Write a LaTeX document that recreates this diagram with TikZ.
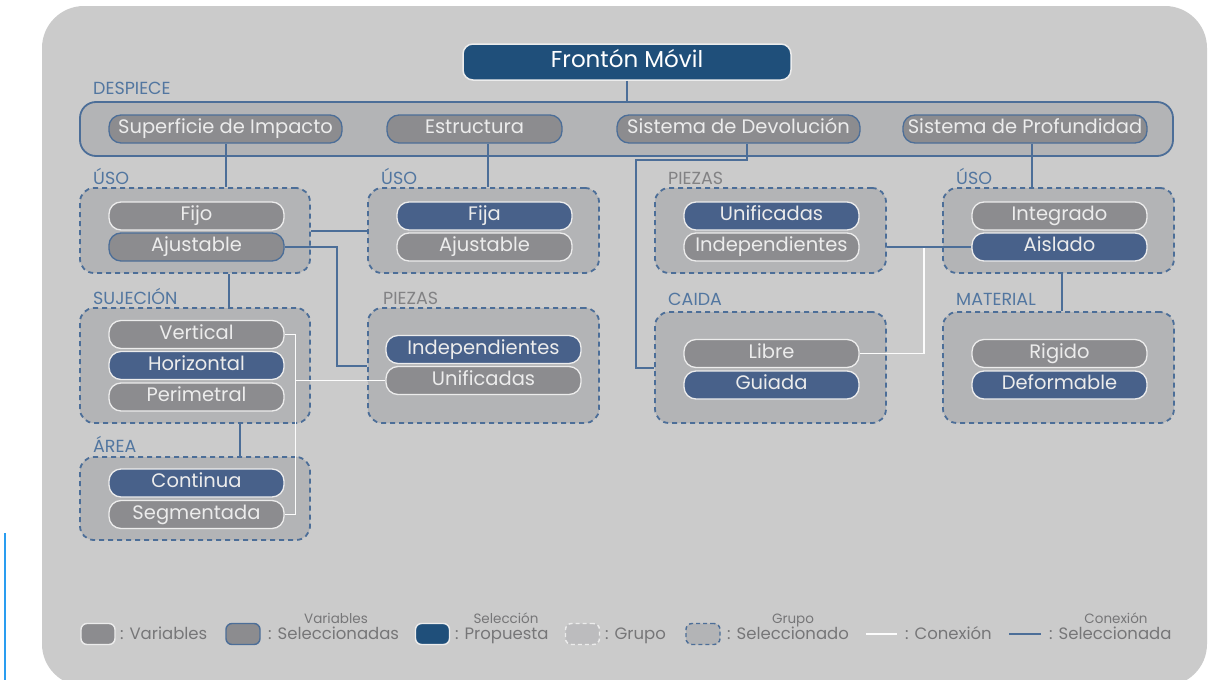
\documentclass[tikz,border=0pt]{standalone}
\usepackage{fontspec}
\setmainfont{Poppins}
\definecolor{fondo}{HTML}{CBCBCB}
\definecolor{grisgrupo}{HTML}{B3B4B6}
\definecolor{grisvar}{HTML}{8C8C8F}
\definecolor{grisley}{HTML}{BCBCBE}
\definecolor{azullinea}{HTML}{4C6E98}
\definecolor{azulprop}{HTML}{48618A}
\definecolor{azultitulo}{HTML}{1F4F7A}
\definecolor{azuletiq}{HTML}{5276A0}
\definecolor{grisetiq}{HTML}{828284}
\definecolor{textoclaro}{HTML}{ECECEC}
\definecolor{textoley}{HTML}{767678}
\definecolor{celeste}{HTML}{2A9DF0}
\begin{document}
\begin{tikzpicture}[x=1pt,y=-1pt,
    pill/.style={rounded corners=12pt, minimum width=175pt, minimum height=28pt,
      inner sep=0pt, line width=1.3pt, text=textoclaro, text height=14pt, text depth=4.5pt,
      font=\fontsize{19.5}{21}\selectfont},
    varbox/.style={pill, fill=grisvar, draw=textoclaro},
    varsel/.style={pill, fill=grisvar, draw=azullinea},
    propuesta/.style={pill, fill=azulprop, draw=textoclaro},
    grupo/.style={fill=grisgrupo, draw=azullinea, line width=1.8pt,
      dash pattern=on 5pt off 4pt, rounded corners=14pt, inner sep=0pt},
    caja/.style={fill=grisgrupo, draw=azullinea, line width=1.8pt,
      rounded corners=16pt, inner sep=0pt},
    titulo/.style={fill=azultitulo, draw=textoclaro, line width=1.5pt, rounded corners=10pt,
      minimum width=328pt, minimum height=36pt, text=white, text height=16pt, text depth=5pt,
      font=\fontsize{23}{25}\selectfont},
    etiq/.style={anchor=west, inner sep=0pt, text=azuletiq, text height=12.5pt, text depth=0pt,
      font=\fontsize{17.5}{19}\selectfont},
    etiqgris/.style={etiq, text=grisetiq},
    conexion/.style={draw=white!95!fondo, line width=1.6pt},
    consel/.style={draw=azullinea, line width=2pt},
    muestra/.style={minimum width=34pt, minimum height=21pt, inner sep=0pt,
      rounded corners=6pt, line width=1.4pt},
    ley/.style={anchor=west, inner sep=0pt, text=textoley, text height=11.5pt, text depth=0pt,
      font=\fontsize{16.5}{18}\selectfont},
    leysup/.style={inner sep=0pt, text=textoley, text height=9.5pt, text depth=0pt,
      font=\fontsize{13.5}{15}\selectfont},
  ]
  \useasboundingbox (0,0) rectangle (1213,680);
  \fill[fondo, rounded corners=42pt] (42,6) rectangle (1207,686);
  \draw[celeste, line width=2.2pt] (5,533) -- (5,680);

  \node[caja, minimum width=1093pt, minimum height=54pt] (despiece) at (626.5,129) {};
  \node[etiq] (lDespiece) at (93,88) {DESPIECE};
  \node[titulo] (fronton) at (627,62) {Frontón Móvil};
  \node[varsel, minimum width=233pt] (sup) at (225.5,129) {Superficie de Impacto};
  \node[varsel] (est) at (474.5,129) {Estructura};
  \node[varsel, minimum width=243pt] (sdd) at (738.5,129) {Sistema de Devolución};
  \node[varsel, minimum width=244pt] (sdp) at (1025,129) {Sistema de Profundidad};

  \node[grupo, minimum width=230pt, minimum height=85pt] (usoA) at (195,230.5) {};
  \node[grupo, minimum width=231pt, minimum height=85pt] (usoB) at (483.5,230.5) {};
  \node[grupo, minimum width=231pt, minimum height=85pt] (piezasR) at (770.5,230.5) {};
  \node[grupo, minimum width=231pt, minimum height=85pt] (usoD) at (1058.5,230.5) {};
  \node[grupo, minimum width=230pt, minimum height=115pt] (sujecion) at (195,365.5) {};
  \node[grupo, minimum width=231pt, minimum height=115pt] (piezasL) at (483.5,365.5) {};
  \node[grupo, minimum width=231pt, minimum height=111pt] (caida) at (770.5,367.5) {};
  \node[grupo, minimum width=231pt, minimum height=111pt] (material) at (1058.5,367.5) {};
  \node[grupo, minimum width=230pt, minimum height=83pt] (area) at (195,498.5) {};

  \node[etiq] (lUsoA) at (93,178) {ÚSO};
  \node[etiq] (lUsoB) at (381,178) {ÚSO};
  \node[etiqgris] (lPiezasR) at (668,178) {PIEZAS};
  \node[etiq] (lUsoD) at (956,178) {ÚSO};
  \node[etiq] (lSujecion) at (93,298) {SUJECIÓN};
  \node[etiqgris] (lPiezasL) at (383,298) {PIEZAS};
  \node[etiq] (lCaida) at (668,299) {CAIDA};
  \node[etiq] (lMaterial) at (956,299) {MATERIAL};
  \node[etiq] (lArea) at (93,446) {ÁREA};

  \node[varbox] (fijoA) at (196.5,216) {Fijo};
  \node[varsel] (ajusA) at (196.5,247) {Ajustable};
  \node[propuesta] (fijaB) at (484.5,216) {Fija};
  \node[varbox] (ajusB) at (484.5,247) {Ajustable};
  \node[propuesta] (unifR) at (771.5,216) {Unificadas};
  \node[varbox] (indepR) at (771.5,247) {Independientes};
  \node[varbox] (integrado) at (1059.5,216) {Integrado};
  \node[propuesta] (aislado) at (1059.5,247) {Aislado};

  \node[varbox] (vert) at (196.5,334.5) {Vertical};
  \node[propuesta] (horiz) at (196.5,365.5) {Horizontal};
  \node[varbox] (perim) at (196.5,397) {Perimetral};
  \node[propuesta, minimum width=195pt] (indepL) at (483.5,349.5) {Independientes};
  \node[varbox, minimum width=195pt] (unifL) at (483.5,380.5) {Unificadas};
  \node[varbox] (libre) at (771.5,353.5) {Libre};
  \node[propuesta] (guiada) at (771.5,385) {Guiada};
  \node[varbox] (rigido) at (1059.5,353.5) {Rigido};
  \node[propuesta] (deform) at (1059.5,385) {Deformable};
  \node[propuesta] (continua) at (196.5,483) {Continua};
  \node[varbox] (segm) at (196.5,514.5) {Segmentada};

  \coordinate (bus) at ([xshift=11pt]vert.east);
  \coordinate (enlace) at (924,248);
  \coordinate (codo) at (636,160);
  \begin{scope}[conexion]
    \draw (vert.east) -- (bus) |- (segm.east);
    \draw (bus |- unifL.west) -- (unifL.west);
    \draw (libre.east) -| (enlace);
  \end{scope}
  \begin{scope}[consel]
    \draw (fronton.south) -- (fronton.south |- despiece.north);
    \draw (sup.south) -- (sup.south |- usoA.north);
    \draw ([xshift=13pt]est.south) -- ([xshift=13pt]est.south |- usoB.north);
    \draw ([xshift=8pt]sdd.south) |- (codo) |- (caida.west);
    \draw ([xshift=7pt]sdp.south) -- ([xshift=7pt]sdp.south |- usoD.north);
    \draw (usoA.east) -- (usoB.west);
    \draw (ajusA.east) -| ([xshift=-30pt]piezasL.west) -- (piezasL.west);
    \draw ([xshift=34pt]usoA.south) -- ([xshift=34pt]usoA.south |- sujecion.north);
    \draw ([xshift=45pt]sujecion.south) -- ([xshift=45pt]sujecion.south |- area.north);
    \draw (indepR.east -| piezasR.east) -- (aislado.west);
    \draw ([xshift=3pt]usoD.south) -- ([xshift=3pt]usoD.south |- material.north);
  \end{scope}

  \node[muestra, fill=grisvar, draw=textoclaro] (r1) at (98,634) {};
  \node[ley] (t1) at (120,634) {: Variables};
  \node[muestra, fill=grisvar, draw=azullinea] (r2) at (243,634) {};
  \node[ley] (t2) at (268,634) {: Seleccionadas};
  \node[leysup] (s2) at (336,619) {Variables};
  \node[muestra, fill=azultitulo, draw=textoclaro] (r3) at (432.5,634) {};
  \node[ley] (t3) at (455,634) {: Propuesta};
  \node[leysup] (s3) at (506,619) {Selección};
  \node[muestra, fill=grisley, draw=textoclaro, dash pattern=on 4pt off 3pt] (r4) at (582.5,634) {};
  \node[ley] (t4) at (605,634) {: Grupo};
  \node[muestra, fill=grisgrupo, draw=azullinea, dash pattern=on 4pt off 3pt] (r5) at (703,634) {};
  \node[ley] (t5) at (727,634) {: Seleccionado};
  \node[leysup] (s5) at (793,619) {Grupo};
  \coordinate (c6a) at (866,634);
  \coordinate (c6b) at (897,634);
  \draw[conexion] (c6a) -- (c6b);
  \node[ley] (t6) at (905,634) {: Conexión};
  \coordinate (c7a) at (1009,634);
  \coordinate (c7b) at (1041,634);
  \draw[consel] (c7a) -- (c7b);
  \node[ley] (t7) at (1049,634) {: Seleccionada};
  \node[leysup] (s7) at (1116,619) {Conexión};
\end{tikzpicture}
\end{document}
